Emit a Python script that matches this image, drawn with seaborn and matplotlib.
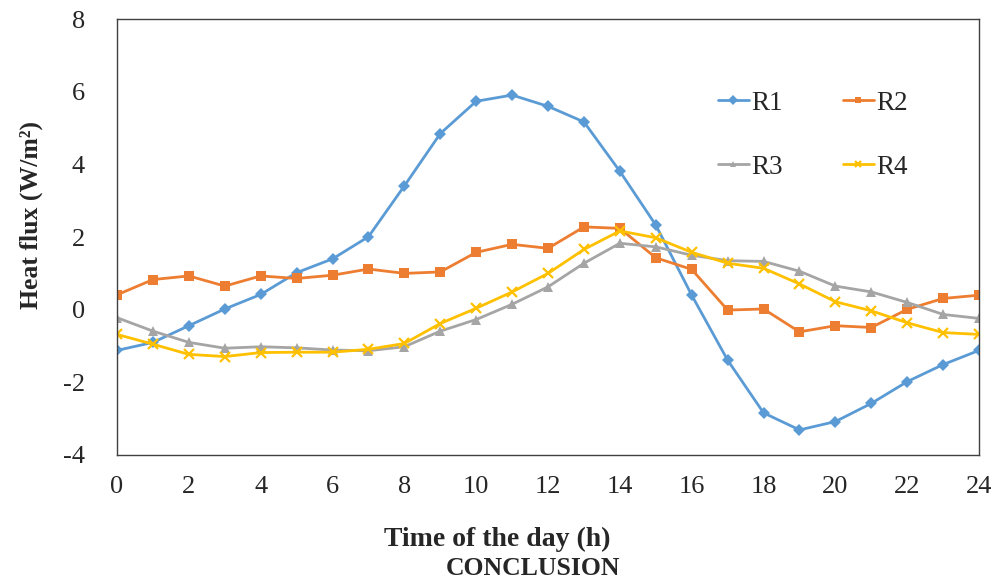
import numpy as np
import pandas as pd
import matplotlib
matplotlib.use("Agg")
import matplotlib.pyplot as plt
import matplotlib.colors as mcolors
import seaborn as sns

hours = list(range(25))
r1 = [-1.12, -0.90, -0.44, 0.02, 0.42, 1.02, 1.40, 2.01, 3.41, 4.85, 5.74, 5.91, 5.60,
      5.17, 3.81, 2.33, 0.40, -1.39, -2.84, -3.31, -3.08, -2.58, -1.98, -1.51, -1.12]
r2 = [0.41, 0.83, 0.93, 0.65, 0.93, 0.86, 0.95, 1.12, 1.00, 1.04, 1.58, 1.80, 1.69,
      2.28, 2.24, 1.43, 1.11, -0.01, 0.02, -0.61, -0.44, -0.49, 0.01, 0.31, 0.40]
r3 = [-0.22, -0.59, -0.90, -1.06, -1.02, -1.05, -1.11, -1.13, -1.02, -0.59, -0.27, 0.15, 0.63,
      1.28, 1.83, 1.73, 1.50, 1.35, 1.33, 1.06, 0.65, 0.49, 0.20, -0.13, -0.24]
r4 = [-0.68, -0.95, -1.23, -1.29, -1.18, -1.17, -1.17, -1.09, -0.93, -0.38, 0.04, 0.49, 1.00,
      1.66, 2.17, 1.98, 1.58, 1.28, 1.14, 0.71, 0.22, -0.03, -0.36, -0.63, -0.68]
series_names = ["R1", "R2", "R3", "R4"]
x_ticks = list(range(0, 25, 2))
y_ticks = list(range(-4, 9, 2))

df = pd.concat([
    pd.DataFrame({"hour": hours, "flux": vals, "series": name})
    for name, vals in zip(series_names, [r1, r2, r3, r4])
], ignore_index=True)

sns.set_style("white")
plt.rcParams["font.family"] = ["Liberation Serif", "DejaVu Serif"]
plt.rcParams["axes.unicode_minus"] = False

fig = plt.figure(figsize=(9.97, 5.81), dpi=100)
ax = fig.add_axes([0.1174, 0.2169, 0.982 - 0.1174, 0.967 - 0.2169])

palette = {"R1": "#5B9BD5", "R2": "#ED7D31", "R3": "#A5A5A5", "R4": "#FFC000"}
markers = {"R1": "D", "R2": "s", "R3": "^", "R4": "X"}
sns.lineplot(data=df, x="hour", y="flux", hue="series", style="series",
             palette=palette, markers=markers, dashes=False, linewidth=2.0,
             markersize=6.5, markeredgewidth=0, ax=ax, legend=True)

def fix_x_marker(line):
    if mcolors.to_hex(line.get_color()) == "#ffc000":
        line.set_marker("x")
        line.set_markersize(6.5)
        line.set_markeredgewidth(1.6)
        line.set_markeredgecolor("#FFC000")

for line in ax.lines:
    fix_x_marker(line)

ax.set_xlim(0, 24)
ax.set_ylim(-4, 8)
ax.set_xticks(x_ticks)
ax.set_yticks(y_ticks)
ax.tick_params(axis="both", labelsize=19, length=0)
ax.tick_params(axis="x", pad=15)
ax.tick_params(axis="y", pad=23)
for s in ax.spines.values():
    s.set_color("#404040")
    s.set_linewidth(1.0)

ax.set_xlabel("")
ax.set_ylabel("Heat flux (W/m²)", fontsize=18.5, fontweight="bold")
ax.yaxis.set_label_coords(-0.086, 0.55)

fig.text(0.4985, 1 - 546 / 581, "Time of the day (h)", ha="center", va="baseline",
         fontsize=20, fontweight="bold")
fig.text(533 / 997, 1 - 575 / 581, "CONCLUSION", ha="center", va="baseline",
         fontsize=18.5, fontweight="bold")

handles, labels = ax.get_legend_handles_labels()
hmap = dict(zip(labels, handles))
for h in hmap.values():
    try:
        fix_x_marker(h)
        h.set_markersize(5)
    except Exception:
        pass
order = ["R1", "R3", "R2", "R4"]
leg = ax.legend([hmap[k] for k in order], order, loc="upper left",
                bbox_to_anchor=(0.697, 0.836), ncol=2, frameon=False,
                fontsize=19.5, handlelength=1.15, handletextpad=0.1, columnspacing=2.2,
                labelspacing=1.45, borderaxespad=0, borderpad=0)

fig.savefig("out.png", dpi=100)
